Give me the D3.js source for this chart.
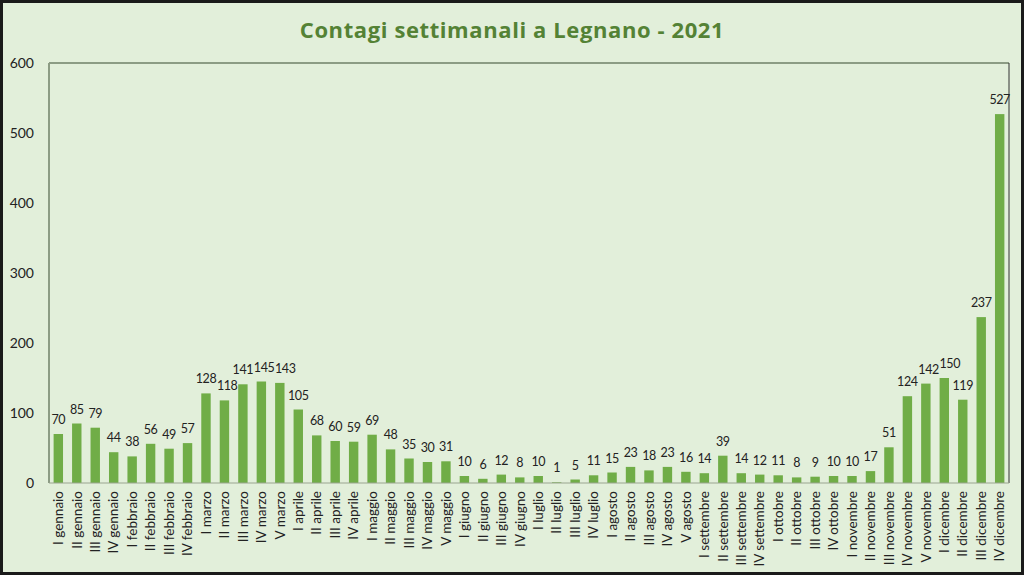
<!DOCTYPE html>
<html><head><meta charset="utf-8">
<script src="https://cdn.jsdelivr.net/npm/d3@7"></script>
<style>body{margin:0;background:#fff;}svg{display:block;}</style>
</head><body>
<script>
const categories = ["I gennaio","II gennaio","III gennaio","IV gennaio","I febbraio","II febbraio","III febbraio","IV febbraio","I marzo","II marzo","III marzo","IV marzo","V marzo","I aprile","II aprile","III aprile","IV aprile","I maggio","II maggio","III maggio","IV maggio","V maggio","I giugno","II giugno","III giugno","IV giugno","I luglio","II luglio","III luglio","IV luglio","I agosto","II agosto","III agosto","IV agosto","V agosto","I settembre","II settembre","III settembre","IV settembre","I ottobre","II ottobre","III ottobre","IV ottobre","I novembre","II novembre","III novembre","IV novembre","V novembre","I dicembre","II dicembre","III dicembre","IV dicembre"];
const values = [70,85,79,44,38,56,49,57,128,118,141,145,143,105,68,60,59,69,48,35,30,31,10,6,12,8,10,1,5,11,15,23,18,23,16,14,39,14,12,11,8,9,10,10,17,51,124,142,150,119,237,527];
const yTicks = [0,100,200,300,400,500,600];
const title = "Contagi settimanali a Legnano - 2021";

const W=1024,H=575;
const m={left:49,right:1009,top:63,bottom:483};
const svg=d3.select("body").append("svg").attr("width",W).attr("height",H);
svg.append("rect").attr("x",1.5).attr("y",1.5).attr("width",W-3).attr("height",H-3)
  .attr("fill","#e2efda").attr("stroke","#1a1a1a").attr("stroke-width",3);

const font="Lato, 'Open Sans', sans-serif";
svg.append("text").attr("x",512).attr("y",38).attr("text-anchor","middle")
  .attr("font-family","'Open Sans', sans-serif").attr("font-weight","bold").attr("font-size",22)
  .attr("fill","#548235").attr("letter-spacing","0.6").text(title);

const x=d3.scaleBand().domain(categories).range([m.left,m.right]).paddingInner(0.49).paddingOuter(0.25);
const y=d3.scaleLinear().domain([0,600]).range([m.bottom,m.top]);

// frame
svg.append("line").attr("x1",m.left).attr("x2",m.right).attr("y1",m.top).attr("y2",m.top).attr("stroke","#8c9c84").attr("stroke-width",2);
svg.append("line").attr("x1",m.left).attr("x2",m.left).attr("y1",m.top).attr("y2",m.bottom).attr("stroke","#8c9c84").attr("stroke-width",2);
svg.append("line").attr("x1",m.right).attr("x2",m.right).attr("y1",m.top).attr("y2",m.bottom).attr("stroke","#333").attr("stroke-width",1);

// y axis
const ya=svg.append("g").attr("transform",`translate(${m.left-15},0)`)
  .call(d3.axisLeft(y).tickValues(yTicks).tickSize(0).tickPadding(0));
ya.select(".domain").remove();
ya.selectAll("text").attr("font-family",font).attr("font-size",14).attr("fill","#222");

// bars
svg.append("g").selectAll("rect").data(values).join("rect")
  .attr("x",(d,i)=>x(categories[i])).attr("width",x.bandwidth())
  .attr("y",d=>y(d)).attr("height",d=>y(0)-y(d)).attr("fill","#70ad47");

// baseline
svg.append("line").attr("x1",m.left).attr("x2",m.right).attr("y1",m.bottom).attr("y2",m.bottom).attr("stroke","#9aa590").attr("stroke-width",1);

// value labels
const labels=svg.append("g").selectAll("text").data(values).join("text")
  .attr("x",(d,i)=>x(categories[i])+x.bandwidth()/2).attr("y",d=>y(d)-10)
  .attr("text-anchor","middle").attr("font-family",font).attr("font-size",12.5).attr("fill","#222")
  .attr("letter-spacing","-0.4")
  .text(d=>d);
// simple collision avoidance: push labels right when they overlap the previous one
let prev=null;
labels.each(function(){
  const el=d3.select(this);
  const b=this.getBBox();
  if(prev){
    const vOverlap=!(b.y>prev.y+prev.height||b.y+b.height<prev.y);
    if(vOverlap && b.x<prev.x+prev.width+0.5){
      const shift=prev.x+prev.width+0.5-b.x;
      el.attr("x",+el.attr("x")+shift);
      b.x+=shift;
    }
  }
  prev=b;
});

// x axis labels
const xa=svg.append("g").attr("transform",`translate(0,${m.bottom})`)
  .call(d3.axisBottom(x).tickSize(0).tickPadding(0));
xa.select(".domain").remove();
xa.selectAll("text").attr("font-family",font).attr("font-size",13.5).attr("fill","#222")
  .attr("text-anchor","end").attr("dy","0.35em")
  .attr("transform","translate(0,8) rotate(-90)").attr("x",0).attr("y",0);
</script>
</body></html>
